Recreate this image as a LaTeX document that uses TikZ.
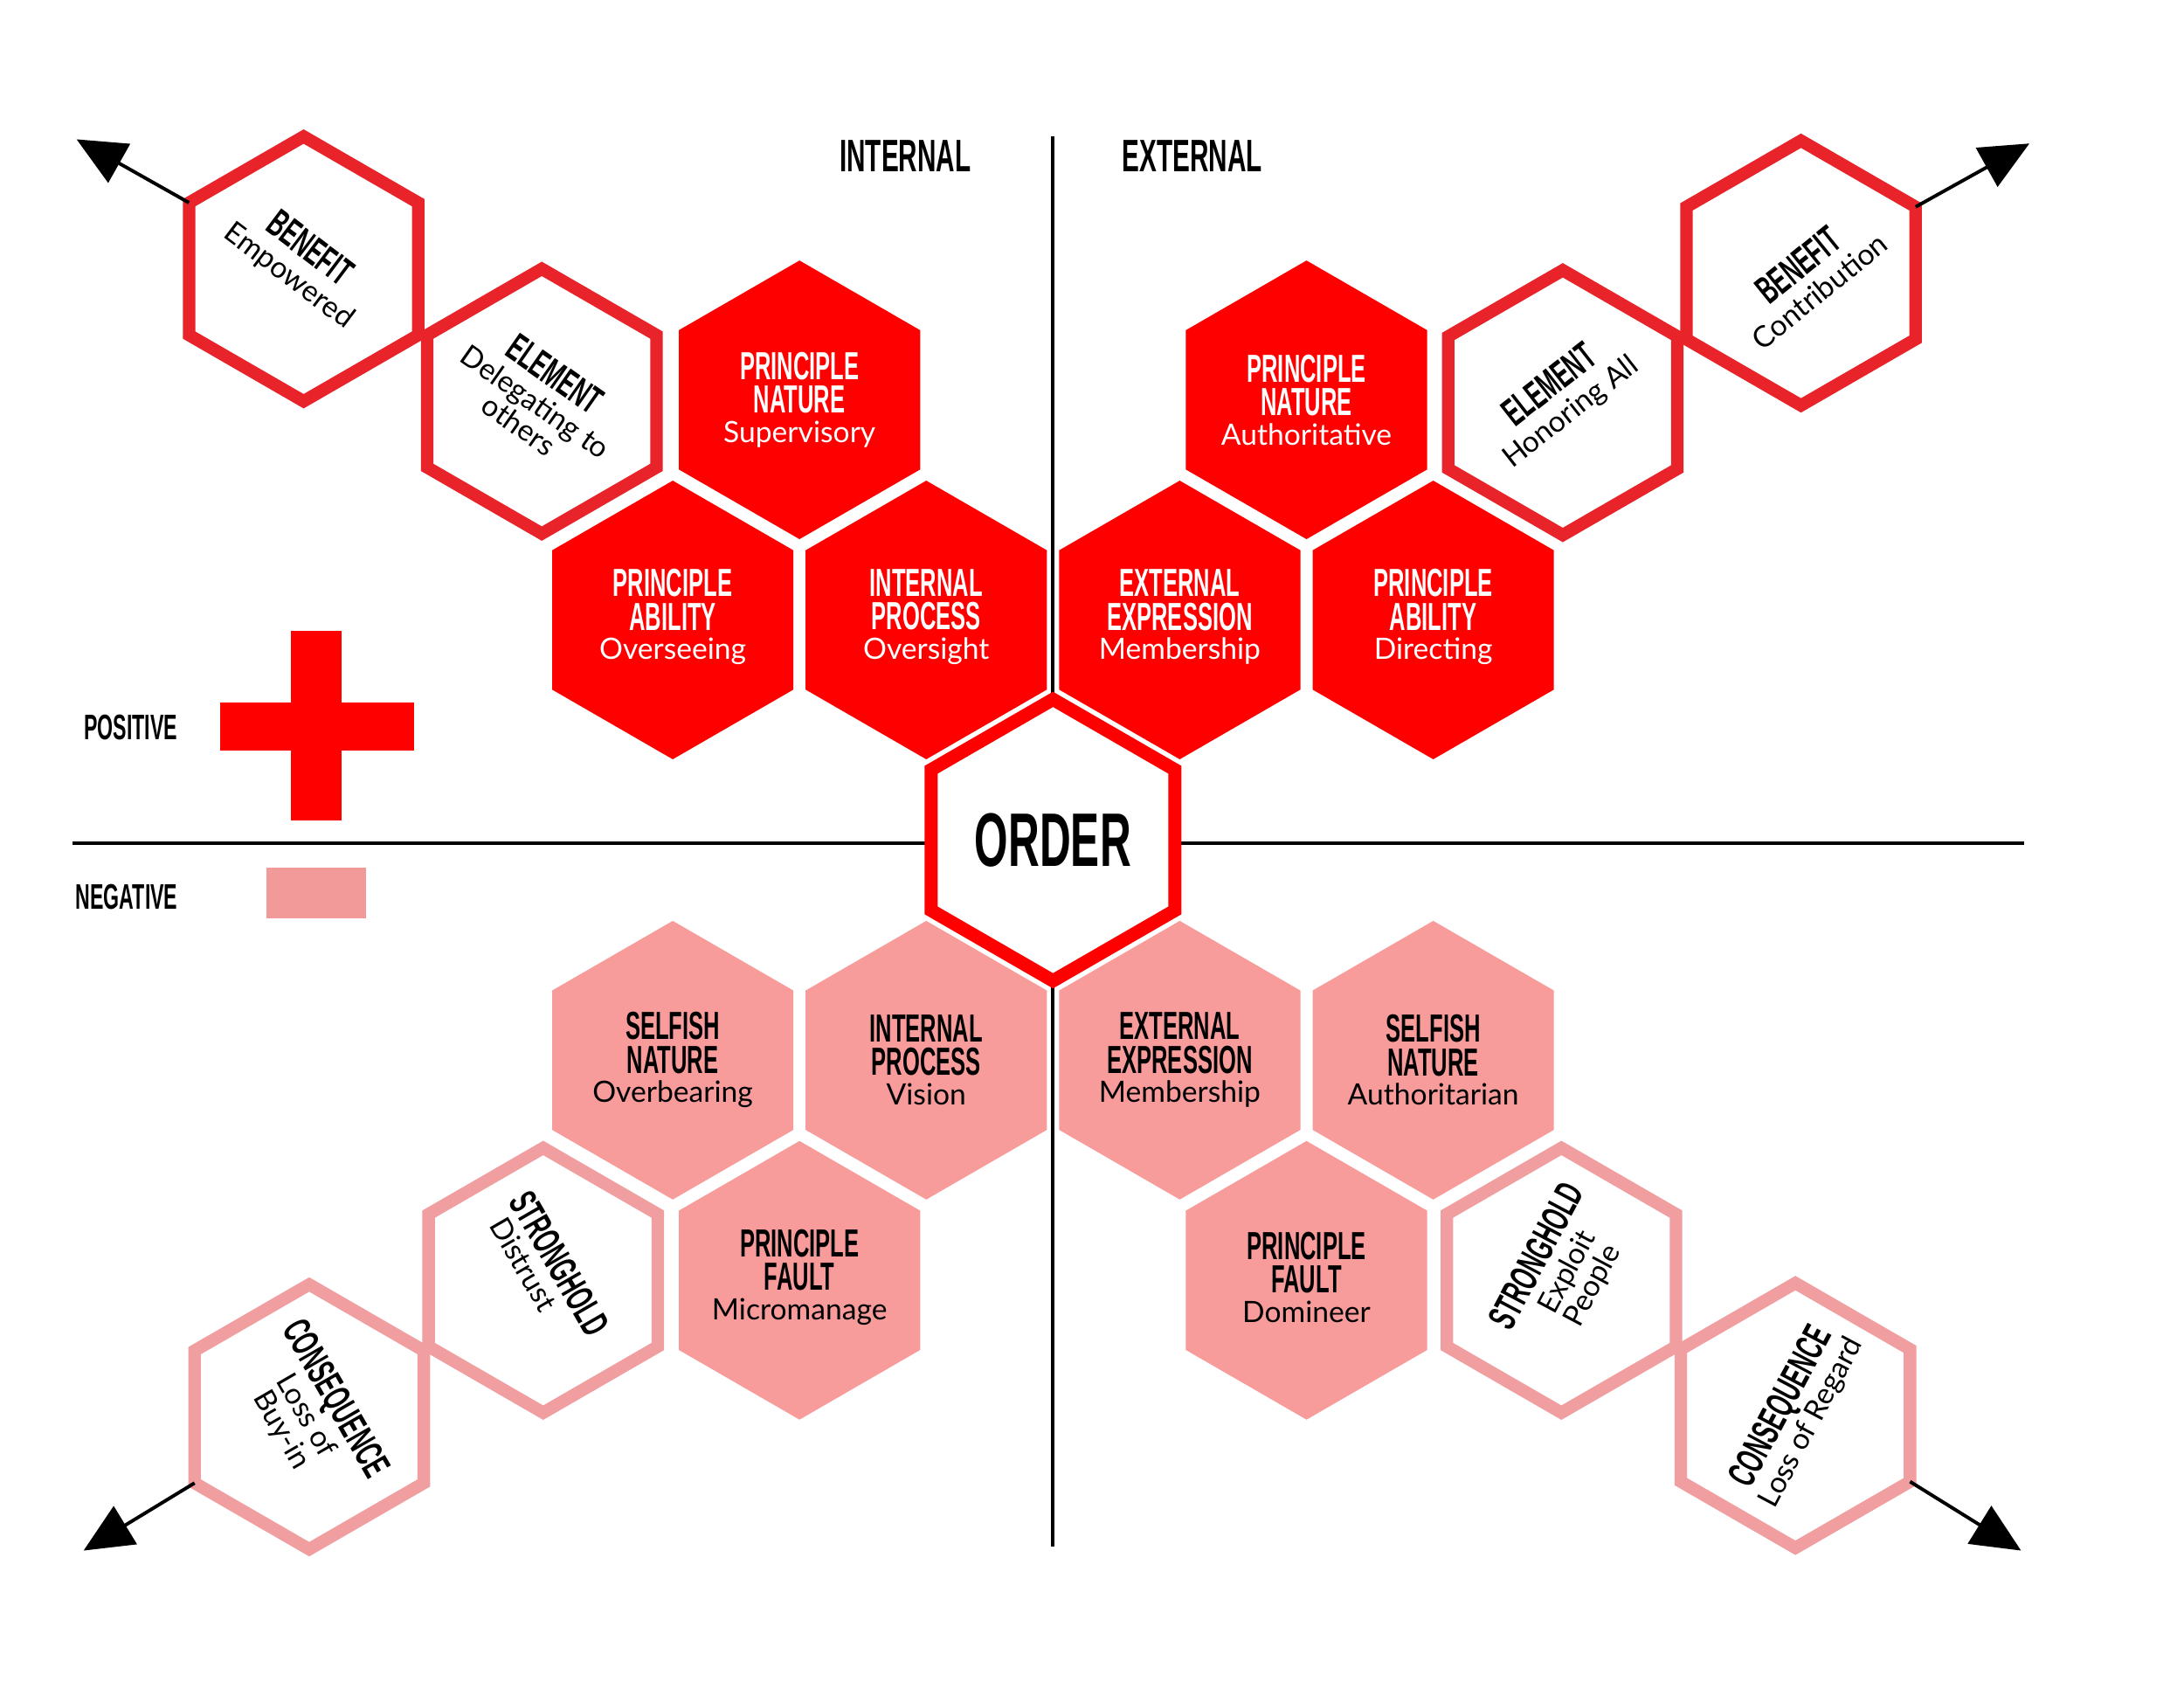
\documentclass[tikz,border=0pt]{standalone}
\usepackage{fontspec}
\newfontfamily\headfont[FakeStretch=0.57]{Liberation Sans Bold}
\newfontfamily\subfont{Lato}
\usetikzlibrary{arrows.meta}
\definecolor{redfill}{RGB}{255,0,0}
\definecolor{redline}{RGB}{233,35,42}
\definecolor{pinkfill}{RGB}{248,155,155}
\definecolor{pinkline}{RGB}{240,158,160}
\definecolor{swatch}{RGB}{242,153,153}
\newcommand{\subtx}[1]{{\subfont\fontsize{12}{14}\selectfont #1}}
\newcommand{\hexagon}[5]{% style, name, x, y, R
  \coordinate (#2) at (#3,#4);
  \path[#1] (#3,#4) ++(0,-#5) -- ++({0.8660254*#5},{0.5*#5}) -- ++(0,#5)
    -- ++({-0.8660254*#5},{0.5*#5}) -- ++({-0.8660254*#5},{-0.5*#5})
    -- ++(0,-#5) -- cycle;
}
\begin{document}
\begin{tikzpicture}[x=0.2mm,y=-0.2mm,
  hd/.style={font=\headfont\fontsize{16}{13.65}\selectfont, align=center, inner sep=0pt},
  wt/.style={hd, text=white},
  bk/.style={hd, text=black},
  redhex/.style={fill=redfill},
  pinkhex/.style={fill=pinkfill},
  redring/.style={draw=redline, line width=5.1pt, line join=miter},
  pinkring/.style={draw=pinkline, line width=5.1pt, line join=miter},
  orderring/.style={draw=redfill, fill=white, line width=5.4pt, line join=miter},
  axisline/.style={line width=1.5pt, black},
  arr/.style={line width=1.4pt, black, -{Triangle[length=20pt,width=18pt]}},
  legend/.style={font=\headfont\fontsize{14.5}{14.5}\selectfont, inner sep=0pt},
  quad/.style={font=\headfont\fontsize{18.6}{18.6}\selectfont, inner sep=0pt},
]
\useasboundingbox[fill=white] (0,0) rectangle (1568,1212);

% axes
\coordinate (vtop) at (756,98);
\coordinate (vbot) at (756,1110);
\coordinate (hleft) at (52,605);
\coordinate (hright) at (1453,605);
\draw[axisline] (vtop) -- (vbot);
\draw[axisline] (hleft) -- (hright);

% quadrant titles
\node[quad] (internal) at (650,112) {INTERNAL};
\node[quad] (external) at (856,112) {EXTERNAL};

% legend
\node[legend] (positive) at (94,522) {POSITIVE};
\node[legend] (negative) at (91,644) {NEGATIVE};
\fill[redfill] (209,453) rectangle (245,589);
\fill[redfill] (158,504) rectangle (297,539);
\fill[swatch] (191,623) rectangle (263,659);

% filled red hexagons
\hexagon{redhex}{hA}{574}{287}{100}
\hexagon{redhex}{hB}{938}{287}{100}
\hexagon{redhex}{hC}{483}{445}{100}
\hexagon{redhex}{hD}{665}{445}{100}
\hexagon{redhex}{hE}{847}{445}{100}
\hexagon{redhex}{hF}{1029}{445}{100}
% filled pink hexagons
\hexagon{pinkhex}{hG}{483}{761}{100}
\hexagon{pinkhex}{hH}{665}{761}{100}
\hexagon{pinkhex}{hI}{847}{761}{100}
\hexagon{pinkhex}{hJ}{1029}{761}{100}
\hexagon{pinkhex}{hK}{574}{919}{100}
\hexagon{pinkhex}{hL}{938}{919}{100}
% order
\hexagon{orderring}{hO}{756}{603}{101}
% outlined
\hexagon{redring}{oA}{218}{193}{95}
\hexagon{redring}{oB}{389}{288}{95}
\hexagon{redring}{oC}{1122}{289}{95}
\hexagon{redring}{oD}{1293}{196}{95}
\hexagon{pinkring}{oE}{390}{919}{95}
\hexagon{pinkring}{oF}{222}{1017}{95}
\hexagon{pinkring}{oG}{1121}{919}{95}
\hexagon{pinkring}{oH}{1289}{1016}{95}

% arrows
\coordinate (aA) at (135.7,145.5);
\coordinate (tA) at (55,100);
\coordinate (aB) at (1375.3,148.5);
\coordinate (tB) at (1457,103);
\coordinate (aC) at (139.7,1064.5);
\coordinate (tC) at (60,1113);
\coordinate (aD) at (1371.3,1063.5);
\coordinate (tD) at (1451,1113);
\draw[arr] (aA) -- (tA);
\draw[arr] (aB) -- (tB);
\draw[arr] (aC) -- (tC);
\draw[arr] (aD) -- (tD);

% labels red
\node[wt] (lA) at (574,287) {PRINCIPLE\\NATURE\\[-1.6pt]\subtx{Supervisory}};
\node[wt] (lB) at (938,287) {PRINCIPLE\\NATURE\\[-1.6pt]\subtx{Authoritative}};
\node[wt] (lC) at (483,443) {PRINCIPLE\\ABILITY\\[-1.6pt]\subtx{Overseeing}};
\node[wt] (lD) at (665,443) {INTERNAL\\PROCESS\\[-1.6pt]\subtx{Oversight}};
\node[wt] (lE) at (847,443) {EXTERNAL\\EXPRESSION\\[-1.6pt]\subtx{Membership}};
\node[wt] (lF) at (1029,443) {PRINCIPLE\\ABILITY\\[-1.6pt]\subtx{Directing}};
% labels pink
\node[bk] (lG) at (483,761) {SELFISH\\NATURE\\[-1.6pt]\subtx{Overbearing}};
\node[bk] (lH) at (665,761) {INTERNAL\\PROCESS\\[-1.6pt]\subtx{Vision}};
\node[bk] (lI) at (847,761) {EXTERNAL\\EXPRESSION\\[-1.6pt]\subtx{Membership}};
\node[bk] (lJ) at (1029,761) {SELFISH\\NATURE\\[-1.6pt]\subtx{Authoritarian}};
\node[bk] (lK) at (574,917) {PRINCIPLE\\FAULT\\[-1.6pt]\subtx{Micromanage}};
\node[bk] (lL) at (938,917) {PRINCIPLE\\FAULT\\[-1.6pt]\subtx{Domineer}};

% order
\node[font=\headfont\fontsize{31}{31}\selectfont, inner sep=0pt] (lO) at (756,603) {ORDER};

% rotated labels
\node[bk, rotate=-37] (rA) at (215,188) {BENEFIT\\[-1pt]\subtx{Empowered}};
\node[bk, rotate=-35] (rB) at (386,286) {ELEMENT\\[-1pt]\subtx{Delegating to}\\[-2pt]\subtx{others}};
\node[bk, rotate=38] (rC) at (1120,286) {ELEMENT\\[-1pt]\subtx{Honoring All}};
\node[bk, rotate=39] (rD) at (1298,199) {BENEFIT\\[-1pt]\subtx{Contribution}};
\node[bk, rotate=-60] (rE) at (393,912) {STRONGHOLD\\[-2pt]\subtx{Distrust}\hspace*{14pt}};
\node[bk, rotate=-60] (rF) at (222,1015) {CONSEQUENCE\\[-1pt]\subtx{Loss of}\\[-2pt]\subtx{Buy-in}};
\node[bk, rotate=62] (rG) at (1123,912) {STRONGHOLD\\[-1pt]\subtx{Exploit}\\[-2pt]\subtx{People}};
\node[bk, rotate=62] (rH) at (1289,1015) {CONSEQUENCE\\[-1pt]\subtx{Loss of Regard}};
\end{tikzpicture}
\end{document}
